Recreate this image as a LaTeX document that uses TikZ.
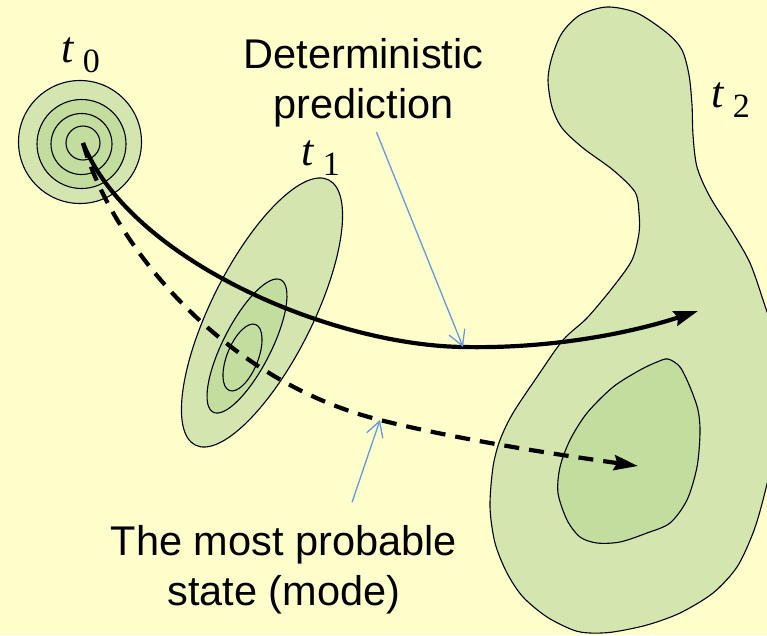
\documentclass[tikz,border=0pt]{standalone}
\usepackage{fontspec}
\setmainfont{Liberation Sans}
\newfontfamily\timesfont{Liberation Serif}
\usetikzlibrary{arrows.meta}

\definecolor{slidebg}{HTML}{FFFFCC}
\definecolor{lightgrn}{RGB}{212,230,176}
\definecolor{darkgrn}{RGB}{194,221,158}
\definecolor{pointerblue}{RGB}{102,153,221}

\newcommand{\tlabel}[1]{{\fontsize{44}{44}\selectfont\timesfont\itshape t}\hspace{9pt}\raisebox{-10pt}{\fontsize{34}{34}\selectfont\timesfont #1}}

\begin{document}
\begin{tikzpicture}[x=1pt, y=-1pt, line width=1.1pt,
  >={Stealth[length=24pt, width=15pt, inset=3pt]},
  region/.style={draw=black, line width=1.1pt},
  track/.style={line width=4.2pt, ->},
  pointer/.style={draw=pointerblue, line width=1.3pt, -{Straight Barb[length=15pt, width=17pt]}},
  lbl/.style={align=center, inner sep=0pt, font=\fontsize{41.5}{50}\selectfont},
  tlab/.style={anchor=base west, inner sep=0pt}]
  \useasboundingbox (0,0) rectangle (767,635);
  \fill[slidebg] (0,0) rectangle (767,635);
  % t0: concentric circles
  \coordinate (c0) at (83,143);
  \filldraw[region, fill=lightgrn] (80,142) circle [radius=61.5];
  \filldraw[region, fill=darkgrn] (81.5,144) circle [radius=44.5];
  \draw[region] (81.5,144) circle [radius=30.5];
  \draw[region] (c0) circle [radius=17];
  % t1: tilted ellipses
  \filldraw[region, fill=lightgrn, rotate around={63.3:(262,312.5)}] (262,312.5) ellipse [x radius=148.4, y radius=50.6];
  \filldraw[region, fill=darkgrn, rotate around={62.9:(247,346)}] (247,346) ellipse [x radius=74.3, y radius=23.9];
  \draw[region, rotate around={68.2:(242.5,357.5)}] (242.5,357.5) ellipse [x radius=35.5, y radius=15.5];
  % t2: irregular region
  \begin{scope}
    \clip (0,0) rectangle (767,635);
    \filldraw[region, fill=lightgrn] plot[smooth cycle] coordinates {
      (607,7) (637,13) (667,33) (682,50) (689,75) (692,105) (693,135) (697,167)
      (710,197) (733,233) (750,263) (763,300) (775,340) (780,400) (772,460)
      (763,500) (753,533) (737,567) (713,593) (680,613) (647,625) (613,632)
      (590,633) (573,630) (547,617) (523,597) (507,573) (495,543) (490,507)
      (493,467) (500,440) (513,413) (537,377) (563,340) (587,318) (613,287)
      (632,260) (639,233) (639,213) (635,192) (613,170) (583,148) (562,128)
      (552,107) (548,80) (552,57) (562,33) (580,15)};
    \filldraw[region, fill=darkgrn] plot[smooth cycle] coordinates {
      (668,359) (680,367) (690,387) (698,410) (700,433) (697,467) (687,500)
      (670,523) (647,533) (620,542) (597,543) (580,537) (567,520) (558,493)
      (560,467) (570,440) (587,413) (613,387) (640,370) (657,362)};
  \end{scope}
  % trajectories
  \coordinate (dpt) at (463,347);
  \coordinate (mpt) at (380,420);
  \coordinate (e1) at (698,311);
  \coordinate (e2) at (638,466);
  \draw[track] (c0) .. controls (130,260) and (330,345) .. (dpt)
    .. controls (560,349) and (640,330) .. (e1);
  \draw[track, dash pattern=on 15pt off 10pt] (c0) .. controls (110,240) and (220,380) .. (mpt)
    .. controls (460,440) and (560,455) .. (e2);
  % labels
  \node (t0lab) [tlab] at (61,62) {\tlabel{0}};
  \node (t1lab) [tlab] at (301,165) {\tlabel{1}};
  \node (t2lab) [tlab] at (711,107) {\tlabel{2}};
  \node (detlab) [lbl, anchor=base] at (363.5,118) {Deterministic\\prediction};
  \node (modelab) [lbl, anchor=base] at (284,605) {The most probable\\state (mode)};
  \draw[pointer] ([xshift=13pt, yshift=-5pt]detlab.south) -- (dpt);
  \draw[pointer] ([xshift=68pt, yshift=22pt]modelab.north) -- (mpt);
\end{tikzpicture}
\end{document}
